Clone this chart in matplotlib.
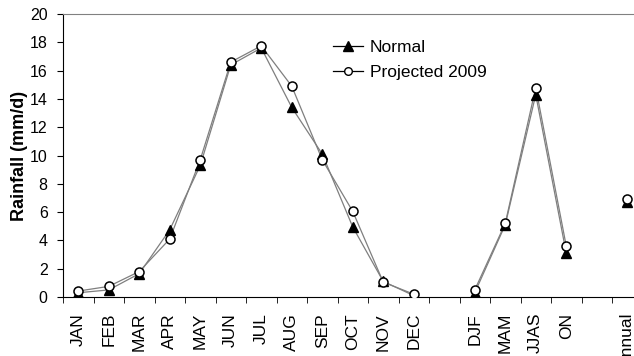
import matplotlib.pyplot as plt
import numpy as np

plt.rcParams['font.family'] = ['Liberation Sans', 'DejaVu Sans']

months = ['JAN', 'FEB', 'MAR', 'APR', 'MAY', 'JUN', 'JUL', 'AUG', 'SEP', 'OCT', 'NOV', 'DEC']
seasons = ['DJF', 'MAM', 'JJAS', 'ON']
annual_label = 'Annual'

normal_months = [0.3, 0.5, 1.65, 4.75, 9.3, 16.4, 17.6, 13.4, 10.1, 4.95, 1.1, 0.1]
proj_months = [0.42, 0.75, 1.8, 4.1, 9.7, 16.6, 17.75, 14.9, 9.7, 6.05, 1.05, 0.2]
normal_seasons = [0.3, 5.1, 14.3, 3.1]
proj_seasons = [0.5, 5.2, 14.8, 3.6]
normal_annual = 6.7
proj_annual = 6.9

labels = months + [''] + seasons + [''] + [annual_label]
x_m = np.arange(len(months))
x_s = np.arange(len(seasons)) + len(months) + 1
x_a = len(labels) - 1

fig = plt.figure(figsize=(6.34, 3.56), dpi=100)
# axes run past the right edge, like the cropped original
ax = fig.add_axes([63 / 634, 59 / 356, 579.5 / 634, 283 / 356])

line_kw = dict(color='#7f7f7f', lw=0.9)
tri_kw = dict(marker='^', ms=7, mfc='black', mec='black', ls='none')
circ_kw = dict(marker='o', ms=6.5, mfc='white', mec='black', mew=1.1, ls='none')

for xs, n, p in [(x_m, normal_months, proj_months), (x_s, normal_seasons, proj_seasons),
                 ([x_a], [normal_annual], [proj_annual])]:
    ax.plot(xs, n, zorder=2, **line_kw)
    ax.plot(xs, p, zorder=3, **line_kw)
    ax.plot(xs, n, zorder=4, **tri_kw)
    ax.plot(xs, p, zorder=5, **circ_kw)

# legend handles
ax.plot([], [], color='black', lw=0.9, marker='^', ms=6.5, mfc='black', mec='black', label='Normal')
ax.plot([], [], color='black', lw=0.9, marker='o', ms=5.5, mfc='white', mec='black', label='Projected 2009')
ax.legend(loc='center left', bbox_to_anchor=(0.466, 0.837), frameon=False, fontsize=12.5,
          handlelength=1.75, handletextpad=0.35, labelspacing=0.6, borderpad=0, borderaxespad=0)

ax.set_xlim(-0.5, len(labels) - 0.5)
ax.set_ylim(0, 20)
ax.set_yticks(np.arange(0, 21, 2))
ax.tick_params(axis='y', labelsize=11.5, direction='out', length=4, pad=7)
ax.set_xticks(np.arange(len(labels)))
ax.set_xticklabels(labels, rotation=90, fontsize=12.5)
ax.set_xticks(np.arange(len(labels) + 1) - 0.5, minor=True)
ax.tick_params(axis='x', which='major', length=0, pad=11.5)
ax.tick_params(axis='x', which='minor', length=4, direction='out')
ax.set_ylabel('Rainfall (mm/d)', fontsize=13, fontweight='bold', labelpad=1.5)

ax.spines['top'].set_color('#808080')
ax.spines['right'].set_visible(False)

fig.savefig('out.png', dpi=100)
